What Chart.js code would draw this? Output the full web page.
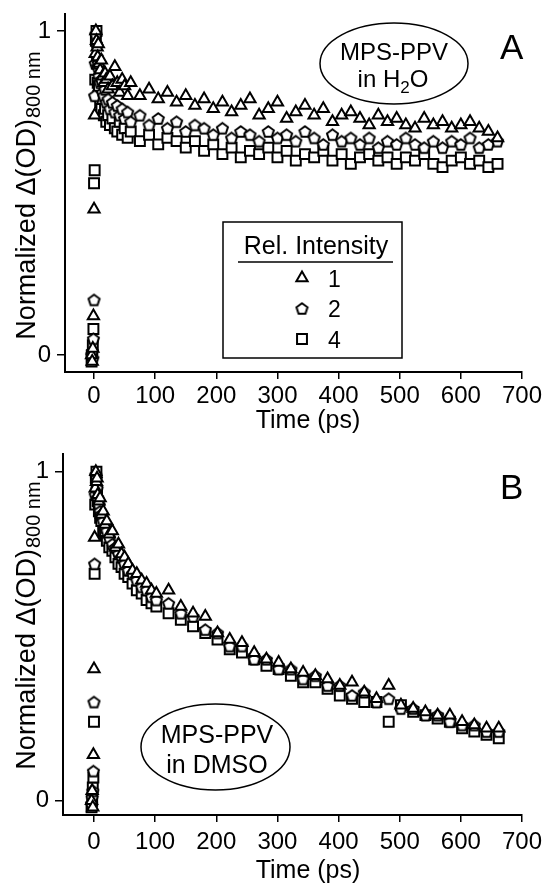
<!DOCTYPE html>
<html>
<head>
<meta charset="utf-8">
<script src="https://cdn.jsdelivr.net/npm/chart.js@4.4.1/dist/chart.umd.min.js"></script>
<style>
  html, body { margin: 0; padding: 0; background: #fff; }
  #wrap { position: relative; width: 546px; height: 884px; overflow: hidden; }
  canvas { position: absolute; left: 0; }
  #panelA { top: 0; }
  #panelB { top: 440px; }
</style>
</head>
<body>
<div id="wrap">
  <canvas id="panelA" width="546" height="440"></canvas>
  <canvas id="panelB" width="546" height="444"></canvas>
</div>
<script>
const FONT = '"Liberation Sans", Arial, Helvetica, sans-serif';

const xTicks = [0, 100, 200, 300, 400, 500, 600, 700];
const yTicks = [0, 1];
const legendTitle = "Rel. Intensity";
const legendLabels = ["1", "2", "4"];

// panel A: MPS-PPV in water
const timeA = [-4, -3, -2, -1, 0, 1, 2, 3, 4, 5, 6, 7, 8, 10, 12, 14, 16, 18, 20, 23, 26, 30, 34, 38, 42, 46, 50, 55,
  60, 75, 90, 105, 120, 135, 150, 165, 180, 195, 210, 225, 240, 255, 270, 285, 300, 315, 330, 345, 360, 375, 390,
  405, 420, 435, 450, 465, 480, 495, 510, 525, 540, 555, 570, 585, 600, 615, 630, 645, 660];
const int1A = [0.00, -0.02, 0.02, 0.12, 0.45, 0.74, 0.93, 1.00, 0.97, 0.95, 0.92, 0.96, 0.90, 0.88, 0.91, 0.86, 0.84, 0.87, 0.85, 0.82, 0.86, 0.83, 0.89, 0.84, 0.81, 0.85, 0.83, 0.80,
  0.84, 0.80, 0.82, 0.79, 0.81, 0.78, 0.80, 0.77, 0.79, 0.76, 0.78, 0.75, 0.77, 0.79, 0.74, 0.76, 0.78, 0.73, 0.75, 0.77, 0.74,
  0.76, 0.72, 0.74, 0.75, 0.73, 0.71, 0.74, 0.72, 0.73, 0.71, 0.70, 0.73, 0.71, 0.72, 0.70, 0.71, 0.72, 0.70, 0.69, 0.67];
const int2A = [0.00, 0.01, -0.01, 0.05, 0.17, 0.80, 0.90, 0.99, 0.96, 0.92, 0.89, 0.90, 0.86, 0.84, 0.85, 0.81, 0.80, 0.82, 0.78, 0.79, 0.76, 0.78, 0.75, 0.77, 0.74, 0.76, 0.73, 0.75,
  0.72, 0.74, 0.71, 0.73, 0.70, 0.72, 0.69, 0.71, 0.70, 0.68, 0.70, 0.67, 0.69, 0.68, 0.66, 0.69, 0.67, 0.68, 0.66, 0.69, 0.67,
  0.65, 0.68, 0.66, 0.67, 0.65, 0.67, 0.64, 0.66, 0.65, 0.67, 0.65, 0.64, 0.66, 0.64, 0.66, 0.65, 0.67, 0.64, 0.65, 0.66];
const int4A = [-0.02, 0.00, 0.03, 0.08, 0.53, 0.57, 0.85, 0.97, 1.00, 0.90, 0.84, 0.80, 0.83, 0.78, 0.76, 0.79, 0.74, 0.76, 0.72, 0.74, 0.71, 0.73, 0.70, 0.69, 0.72, 0.68, 0.70, 0.67,
  0.69, 0.66, 0.68, 0.65, 0.67, 0.66, 0.64, 0.66, 0.63, 0.65, 0.62, 0.64, 0.61, 0.63, 0.62, 0.64, 0.61, 0.63, 0.60, 0.62, 0.61,
  0.63, 0.60, 0.62, 0.59, 0.61, 0.62, 0.60, 0.61, 0.59, 0.61, 0.60, 0.62, 0.59, 0.58, 0.60, 0.61, 0.59, 0.60, 0.58, 0.59];

// panel B: MPS-PPV in DMSO
const timeB = [-4, -3, -2, -1, 0, 1, 2, 3, 4, 5, 6, 8, 10, 12, 15, 18, 21, 25, 30, 35, 40, 45, 50, 56, 63, 70, 78, 86, 94,
  102, 122, 142, 162, 182, 202, 222, 242, 262, 282, 302, 322, 342, 362, 382, 402, 422, 442, 462, 482, 502, 522, 542,
  562, 582, 602, 622, 642, 662];
const int1B = [0.00, 0.03, -0.02, 0.14, 0.40, 0.80, 0.95, 1.00, 0.97, 0.98, 0.93, 0.91, 0.92, 0.87, 0.88, 0.84, 0.85, 0.81, 0.82, 0.77, 0.78, 0.75, 0.74, 0.72, 0.70, 0.69, 0.67, 0.66, 0.64,
  0.63, 0.64, 0.59, 0.57, 0.56, 0.51, 0.49, 0.48, 0.45, 0.43, 0.42, 0.40, 0.39, 0.38, 0.37, 0.35, 0.36, 0.33, 0.31, 0.35,
  0.29, 0.28, 0.27, 0.26, 0.26, 0.24, 0.23, 0.22, 0.22];
const int2B = [-0.01, 0.01, 0.03, 0.09, 0.30, 0.72, 0.93, 0.99, 0.98, 0.95, 0.92, 0.90, 0.88, 0.87, 0.85, 0.83, 0.82, 0.80, 0.78, 0.77, 0.75, 0.74, 0.72, 0.70, 0.69, 0.67, 0.65, 0.64, 0.62,
  0.61, 0.60, 0.57, 0.56, 0.52, 0.51, 0.47, 0.47, 0.43, 0.43, 0.40, 0.40, 0.37, 0.38, 0.35, 0.35, 0.32, 0.33, 0.30, 0.31,
  0.28, 0.28, 0.26, 0.26, 0.24, 0.23, 0.23, 0.21, 0.21];
const int4B = [-0.02, 0.00, 0.04, 0.07, 0.24, 0.69, 0.90, 0.98, 1.00, 0.94, 0.91, 0.88, 0.86, 0.85, 0.82, 0.81, 0.79, 0.77, 0.76, 0.74, 0.72, 0.71, 0.69, 0.68, 0.66, 0.64, 0.63, 0.61, 0.60,
  0.59, 0.57, 0.55, 0.53, 0.51, 0.49, 0.46, 0.45, 0.43, 0.41, 0.40, 0.38, 0.36, 0.36, 0.34, 0.32, 0.31, 0.30, 0.30, 0.24,
  0.29, 0.27, 0.26, 0.25, 0.24, 0.22, 0.21, 0.20, 0.19];

const LW = 2;

// open pentagon marker, chart.js has no such point style
function pentagonMarker() {
  const c = document.createElement("canvas");
  c.width = c.height = 15;
  const g = c.getContext("2d");
  g.beginPath();
  for (let i = 0; i < 5; i++) {
    const a = -Math.PI / 2 + (i * 2 * Math.PI) / 5;
    const x = 7.5 + 5.8 * Math.cos(a);
    const y = 8.1 + 5.8 * Math.sin(a);
    i ? g.lineTo(x, y) : g.moveTo(x, y);
  }
  g.closePath();
  g.fillStyle = "#fff";
  g.fill();
  g.lineWidth = LW;
  g.strokeStyle = "#000";
  g.stroke();
  return c;
}

const markers = [
  { style: "triangle", radius: 6.5 },
  { style: pentagonMarker(), radius: 6 },
  { style: "rect", radius: 7 },
];

function text(ctx, str, x, y, size, align) {
  ctx.font = size + "px " + FONT;
  ctx.textAlign = align || "left";
  ctx.textBaseline = "alphabetic";
  ctx.fillStyle = "#000";
  ctx.fillText(str, x, y);
}

function ellipse(ctx, cx, cy, rx, ry) {
  ctx.beginPath();
  ctx.ellipse(cx, cy, rx, ry, 0, 0, Math.PI * 2);
  ctx.lineWidth = 1.5;
  ctx.strokeStyle = "#000";
  ctx.stroke();
}

// text with a subscript part: [main, sub, rest]
function subText(ctx, parts, cx, y, size, subSize, drop) {
  ctx.font = size + "px " + FONT;
  const w0 = ctx.measureText(parts[0]).width;
  const w2 = ctx.measureText(parts[2]).width;
  ctx.font = subSize + "px " + FONT;
  const w1 = ctx.measureText(parts[1]).width;
  let x = cx - (w0 + w1 + w2) / 2;
  text(ctx, parts[0], x, y, size);
  text(ctx, parts[1], x + w0, y + drop, subSize);
  text(ctx, parts[2], x + w0 + w1, y, size);
}

function yTitle(ctx, x, cy) {
  ctx.save();
  ctx.translate(x, cy);
  ctx.rotate(-Math.PI / 2);
  ctx.font = "27px " + FONT;
  const main = "Normalized \u0394(OD)";
  const w1 = ctx.measureText(main).width;
  ctx.font = "20px " + FONT;
  const w2 = ctx.measureText("800 nm").width;
  const x0 = -(w1 + w2) / 2;
  text(ctx, main, x0, 0, 27);
  text(ctx, "800 nm", x0 + w1 + 1, 5, 20);
  ctx.restore();
}

function drawLegend(ctx) {
  ctx.lineWidth = 1.5;
  ctx.strokeStyle = "#000";
  ctx.strokeRect(223, 222, 179, 136);
  text(ctx, legendTitle, 316, 254, 25, "center");
  ctx.beginPath();
  ctx.moveTo(238, 262);
  ctx.lineTo(393, 262);
  ctx.stroke();
  legendLabels.forEach((lab, i) => {
    const y = 278 + i * 30.5;
    ctx.save();
    ctx.fillStyle = "#fff";
    ctx.strokeStyle = "#000";
    ctx.lineWidth = LW;
    Chart.helpers.drawPoint(ctx, { pointStyle: markers[i].style, radius: markers[i].radius, borderWidth: LW, rotation: 0 }, 302, y);
    ctx.restore();
    text(ctx, lab, 328, y + 8.5, 23);
  });
}

function decorA(ctx) {
  ellipse(ctx, 394, 63.5, 74, 40.5);
  text(ctx, "MPS-PPV", 394, 60, 24, "center");
  subText(ctx, ["in H", "2", "O"], 393, 87, 24, 17, 6);
  text(ctx, "A", 500, 59, 35);
  yTitle(ctx, 35, 196);
  text(ctx, "Time (ps)", 308, 428, 25, "center");
  drawLegend(ctx);
}

function decorB(ctx) {
  ellipse(ctx, 215.5, 307, 74.5, 43);
  text(ctx, "MPS-PPV", 217, 303, 25, "center");
  text(ctx, "in DMSO", 217, 333, 25, "center");
  text(ctx, "B", 500, 59, 35);
  yTitle(ctx, 35, 186);
  text(ctx, "Time (ps)", 308, 438, 25, "center");
}

function makePanel(id, times, series, xMin, yMin, yMax, area, xPad, decorate) {
  const canvas = document.getElementById(id);
  return new Chart(canvas, {
    type: "scatter",
    data: {
      datasets: series.map((vals, i) => ({
        label: legendLabels[i],
        data: times.map((t, k) => ({ x: t, y: vals[k] })),
        pointStyle: markers[i].style,
        pointRadius: markers[i].radius,
        pointHoverRadius: markers[i].radius,
        pointBorderWidth: LW,
        pointBackgroundColor: "#fff",
        pointBorderColor: "#000",
      })),
    },
    options: {
      responsive: false,
      animation: false,
      events: [],
      layout: { padding: { left: 0, top: area.top, right: canvas.width - area.right, bottom: 0 } },
      plugins: { legend: { display: false }, tooltip: { enabled: false } },
      scales: {
        x: {
          type: "linear",
          min: xMin,
          max: 700,
          afterBuildTicks: (s) => { s.ticks = xTicks.map((v) => ({ value: v })); },
          afterFit: (s) => {
            s.height = canvas.height - area.bottom;
            s.paddingLeft = 0;
            s.paddingRight = 0;
          },
          grid: { drawOnChartArea: false, tickLength: 7, color: "#000", lineWidth: 1.5 },
          border: { color: "#000", width: 2 },
          ticks: { color: "#000", font: { family: FONT, size: 24 }, padding: xPad, autoSkip: false, maxRotation: 0 },
        },
        y: {
          min: yMin,
          max: yMax,
          afterBuildTicks: (s) => { s.ticks = yTicks.map((v) => ({ value: v })); },
          afterFit: (s) => {
            s.width = area.left;
            s.paddingTop = 0;
            s.paddingBottom = 0;
          },
          grid: { drawOnChartArea: false, tickLength: 8, color: "#000", lineWidth: 1.5 },
          border: { color: "#000", width: 2 },
          ticks: { color: "#000", font: { family: FONT, size: 24 }, padding: 6 },
        },
      },
    },
    plugins: [{ id: "decor", afterDraw: (chart) => decorate(chart.ctx) }],
  });
}

makePanel("panelA", timeA, [int1A, int2A, int4A], -47.5, -0.0525, 1.0525,
  { left: 65, right: 522, top: 14, bottom: 372 }, 3, decorA);
makePanel("panelB", timeB, [int1B, int2B, int4B], -50.7, -0.0435, 1.054,
  { left: 63, right: 522, top: 14, bottom: 375 }, 6, decorB);
</script>
</body>
</html>
